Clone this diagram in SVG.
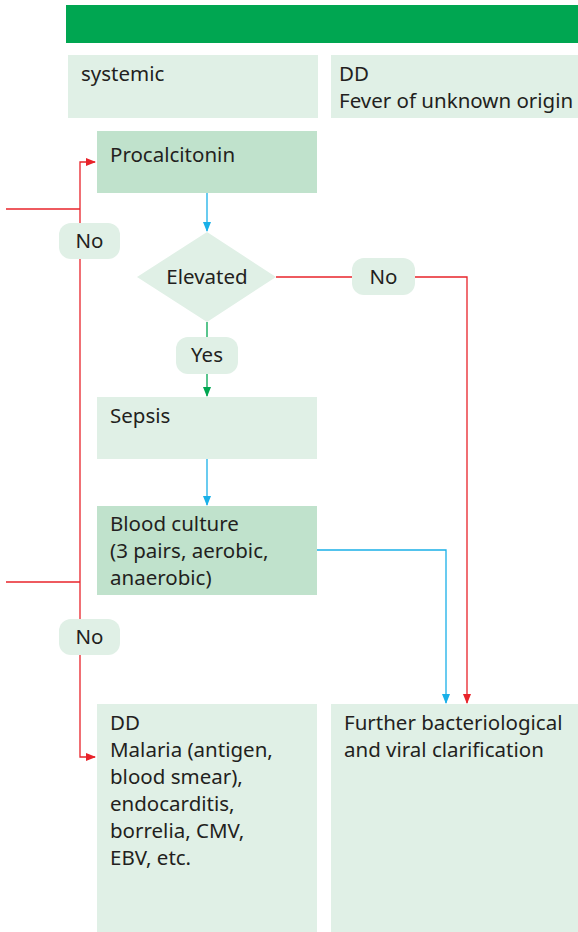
<svg xmlns="http://www.w3.org/2000/svg" width="578" height="932" viewBox="0 0 578 932">
  <defs>
    <style>
      .lt { fill: #e0f0e6; }
      .dk { fill: #c0e2cc; }
      .t { font-family: "Noto Sans", "Open Sans", sans-serif; font-size: 20.5px; fill: #231f20; }
      .c { text-anchor: middle; }
      .red { stroke: #e8232a; stroke-width: 1.3; fill: none; }
      .blue { stroke: #1ab0e8; stroke-width: 1.3; fill: none; }
      .grn { stroke: #00a651; stroke-width: 1.3; fill: none; }
    </style>
    <marker id="ar-red" markerWidth="10" markerHeight="8" refX="9" refY="4" orient="auto" markerUnits="userSpaceOnUse">
      <path d="M0,0 L10,4 L0,8 z" fill="#e8232a"/>
    </marker>
    <marker id="ar-blue" markerWidth="10" markerHeight="8" refX="9" refY="4" orient="auto" markerUnits="userSpaceOnUse">
      <path d="M0,0 L10,4 L0,8 z" fill="#1ab0e8"/>
    </marker>
    <marker id="ar-grn" markerWidth="10" markerHeight="8" refX="9" refY="4" orient="auto" markerUnits="userSpaceOnUse">
      <path d="M0,0 L10,4 L0,8 z" fill="#00a651"/>
    </marker>
  </defs>

  <!-- header bar -->
  <rect id="header" x="66" y="5" width="512" height="38" fill="#00a651"/>

  <!-- connectors -->
  <g id="connectors">
    <!-- left red feedback line -->
    <path class="red" d="M6,209 H80"/>
    <path class="red" d="M6,582 H80"/>
    <path class="red" d="M80,223 V162 H95" marker-end="url(#ar-red)"/>
    <path class="red" d="M80,259 V619"/>
    <path class="red" d="M80,655 V757 H95" marker-end="url(#ar-red)"/>
    <!-- procalcitonin to diamond -->
    <path class="blue" d="M207,193 V231" marker-end="url(#ar-blue)"/>
    <!-- diamond No branch -->
    <path class="red" d="M276,277 H352"/>
    <path class="red" d="M415,277 H467 V703" marker-end="url(#ar-red)"/>
    <!-- diamond Yes branch -->
    <path class="grn" d="M207,322 V337"/>
    <path class="grn" d="M207,374 V396" marker-end="url(#ar-grn)"/>
    <!-- sepsis to blood culture -->
    <path class="blue" d="M207,459 V505" marker-end="url(#ar-blue)"/>
    <!-- blood culture to further clarification -->
    <path class="blue" d="M317,550 H446 V703" marker-end="url(#ar-blue)"/>
  </g>

  <g id="systemic">
    <rect class="lt" x="68" y="55" width="250" height="63"/>
    <text class="t" x="81" y="81">systemic</text>
  </g>

  <g id="dd-fuo">
    <rect class="lt" x="331" y="55" width="247" height="63"/>
    <text class="t" x="339" y="81">DD</text>
    <text class="t" x="339" y="108">Fever of unknown origin</text>
  </g>

  <g id="procalcitonin">
    <rect class="dk" x="97" y="131" width="220" height="62"/>
    <text class="t" x="110" y="162">Procalcitonin</text>
  </g>

  <g id="no-top">
    <rect class="lt" x="59" y="223" width="61" height="36" rx="12"/>
    <text class="t c" x="89.5" y="248">No</text>
  </g>

  <g id="elevated">
    <polygon class="lt" points="207,232 276,277 207,322 137,277"/>
    <text class="t c" x="207" y="284">Elevated</text>
  </g>

  <g id="no-right">
    <rect class="lt" x="352" y="258" width="63" height="37" rx="12"/>
    <text class="t c" x="383.5" y="284">No</text>
  </g>

  <g id="yes">
    <rect class="lt" x="176" y="337" width="62" height="37" rx="12"/>
    <text class="t c" x="207" y="362">Yes</text>
  </g>

  <g id="sepsis">
    <rect class="lt" x="97" y="397" width="220" height="62"/>
    <text class="t" x="110" y="423">Sepsis</text>
  </g>

  <g id="blood-culture">
    <rect class="dk" x="97" y="506" width="220" height="89"/>
    <text class="t" x="110" y="531">Blood culture</text>
    <text class="t" x="110" y="558">(3 pairs, aerobic,</text>
    <text class="t" x="110" y="585">anaerobic)</text>
  </g>

  <g id="no-bottom">
    <rect class="lt" x="59" y="619" width="61" height="36" rx="12"/>
    <text class="t c" x="89.5" y="644">No</text>
  </g>

  <g id="dd-malaria">
    <rect class="lt" x="97" y="704" width="220" height="228"/>
    <text class="t" x="110" y="730">DD</text>
    <text class="t" x="110" y="757">Malaria (antigen,</text>
    <text class="t" x="110" y="784">blood smear),</text>
    <text class="t" x="110" y="811">endocarditis,</text>
    <text class="t" x="110" y="838">borrelia, CMV,</text>
    <text class="t" x="110" y="865">EBV, etc.</text>
  </g>

  <g id="further">
    <rect class="lt" x="331" y="704" width="247" height="228"/>
    <text class="t" x="344" y="730">Further bacteriological</text>
    <text class="t" x="344" y="757">and viral clarification</text>
  </g>
</svg>
